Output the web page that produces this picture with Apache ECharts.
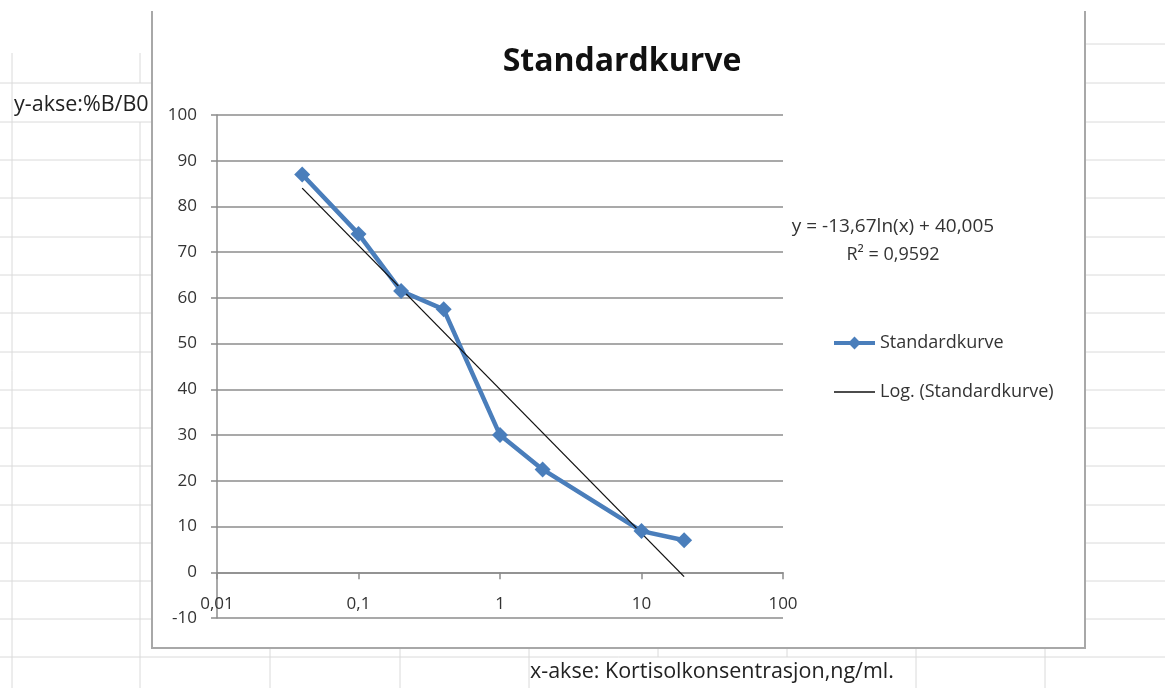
<!DOCTYPE html>
<html>
<head>
<meta charset="utf-8">
<script src="https://cdn.jsdelivr.net/npm/echarts@6/dist/echarts.min.js"></script>
<style>
  html, body { margin: 0; padding: 0; background: #fff; }
  #chart { width: 1165px; height: 688px; }
</style>
</head>
<body>
<div id="chart"></div>
<script>
// data
const concentrations = [0.04, 0.1, 0.2, 0.4, 1, 2, 10, 20];
const percentB = [87, 74, 61.5, 57.5, 30, 22.5, 9, 7];
// log trend line end points (straight on a log axis)
const trendX = [0.04, 20];
const trendY = [84, -0.95];
const xTickLabels = ['0,01', '0,1', '1', '10', '100'];
const yMin = -10, yMax = 100, yStep = 10;

const titleText = 'Standardkurve';
const seriesName = 'Standardkurve';
const trendName = 'Log. (Standardkurve)';
const equationLines = ['y = -13,67ln(x) + 40,005', 'R² = 0,9592'];
const yAxisNote = 'y-akse:%B/B0';
const xAxisNote = 'x-akse: Kortisolkonsentrasjon,ng/ml.';

const font = '"Open Sans", "Noto Sans", sans-serif';
const blue = '#4a7ebb';
const sheetLine = '#dadada';

// spreadsheet look behind the chart
const rowYs = [83, 122, 160, 198, 237, 275, 313, 352, 390, 428, 466, 505, 543, 581, 619, 657];
const bottomCols = [270, 400, 529, 916, 1045];
let bg = [];
rowYs.forEach(y => {
    bg.push({type: 'line', z: -10, shape: {x1: 0, y1: y, x2: 152, y2: y}, style: {stroke: sheetLine, lineWidth: 1}});
});
[44].concat(rowYs).forEach(y => {
    bg.push({type: 'line', z: -10, shape: {x1: 1085, y1: y, x2: 1165, y2: y}, style: {stroke: sheetLine, lineWidth: 1}});
});
bg.push({type: 'line', z: -10, shape: {x1: 152, y1: 657, x2: 1085, y2: 657}, style: {stroke: sheetLine, lineWidth: 1}});
bg.push({type: 'line', z: -10, shape: {x1: 12, y1: 53, x2: 12, y2: 688}, style: {stroke: sheetLine, lineWidth: 1}});
bg.push({type: 'line', z: -10, shape: {x1: 140, y1: 53, x2: 140, y2: 83}, style: {stroke: sheetLine, lineWidth: 1}});
bg.push({type: 'line', z: -10, shape: {x1: 140, y1: 122, x2: 140, y2: 688}, style: {stroke: sheetLine, lineWidth: 1}});
bottomCols.forEach(x => {
    bg.push({type: 'line', z: -10, shape: {x1: x, y1: 648, x2: x, y2: 688}, style: {stroke: sheetLine, lineWidth: 1}});
});
[658, 787].forEach(x => {
    bg.push({type: 'line', z: -10, shape: {x1: x, y1: 648, x2: x, y2: 657}, style: {stroke: sheetLine, lineWidth: 1}});
});
// chart area frame (top edge is cut off in the screenshot)
bg.push({type: 'rect', z: -9, shape: {x: 152, y: 11, width: 933, height: 637}, style: {fill: '#fff'}});
bg.push({type: 'polyline', z: -8, shape: {points: [[152, 11], [152, 648], [1085, 648], [1085, 11]]},
    style: {fill: null, stroke: '#a8a8a8', lineWidth: 2}});

const texts = [
    {type: 'text', z: 10, left: 14, top: 94, style: {text: yAxisNote, font: '21.5px ' + font, fill: '#222'}},
    {type: 'text', z: 10, left: 530, top: 661, style: {text: xAxisNote, font: '21.5px ' + font, fill: '#222'}},
    {type: 'text', z: 10, x: 893, y: 227, style: {text: equationLines[0], font: '19px ' + font, fill: '#333', align: 'center', verticalAlign: 'middle'}},
    {type: 'text', z: 10, x: 893, y: 255, style: {text: equationLines[1], font: '18px ' + font, fill: '#333', align: 'center', verticalAlign: 'middle'}}
];

const chart = echarts.init(document.getElementById('chart'), null, {renderer: 'canvas'});

const option = {
    animation: false,
    backgroundColor: '#fff',
    title: {
        text: titleText,
        left: 617,
        top: 41,
        textAlign: 'center',
        textStyle: {fontFamily: font, fontSize: 32, fontWeight: 'bold', color: '#111'}
    },
    graphic: bg.concat(texts),
    legend: {
        orient: 'vertical',
        left: 832,
        top: 334,
        itemWidth: 41,
        itemHeight: 16,
        itemGap: 31,
        padding: 0,
        textStyle: {fontFamily: font, fontSize: 18, color: '#333'},
        data: [
            {name: seriesName, lineStyle: {width: 4}},
            {name: trendName, itemStyle: {opacity: 0}, lineStyle: {width: 1.5, color: '#111', opacity: 1}}
        ]
    },
    grid: {left: 217, right: 382, top: 115, bottom: 70, containLabel: false},
    xAxis: {
        type: 'log',
        logBase: 10,
        min: 0.01,
        max: 100,
        axisLine: {show: true, onZero: true, lineStyle: {color: '#8c8c8c', width: 1.5}},
        axisTick: {show: true, inside: false, length: 7, lineStyle: {color: '#8c8c8c', width: 1.5}},
        axisLabel: {
            margin: -22,
            fontFamily: font,
            fontSize: 17,
            color: '#333',
            formatter: function (v, i) { return xTickLabels[i]; }
        },
        splitLine: {show: false}
    },
    yAxis: {
        type: 'value',
        min: yMin,
        max: yMax,
        interval: yStep,
        axisLine: {show: true, lineStyle: {color: '#8c8c8c', width: 1.5}},
        axisTick: {show: true, inside: false, length: 6, lineStyle: {color: '#8c8c8c', width: 1.5}},
        axisLabel: {margin: 20, fontFamily: font, fontSize: 17, color: '#333'},
        splitLine: {show: true, lineStyle: {color: '#8c8c8c', width: 1.5}}
    },
    series: [
        {
            name: seriesName,
            type: 'line',
            symbol: 'diamond',
            symbolSize: 16,
            lineStyle: {color: blue, width: 4.5},
            itemStyle: {color: blue},
            data: concentrations.map((x, i) => [x, percentB[i]])
        },
        {
            name: trendName,
            type: 'line',
            symbol: 'none',
            lineStyle: {color: '#111', width: 1.3},
            itemStyle: {color: '#111'},
            data: trendX.map((x, i) => [x, trendY[i]])
        }
    ]
};

chart.setOption(option);
</script>
</body>
</html>
